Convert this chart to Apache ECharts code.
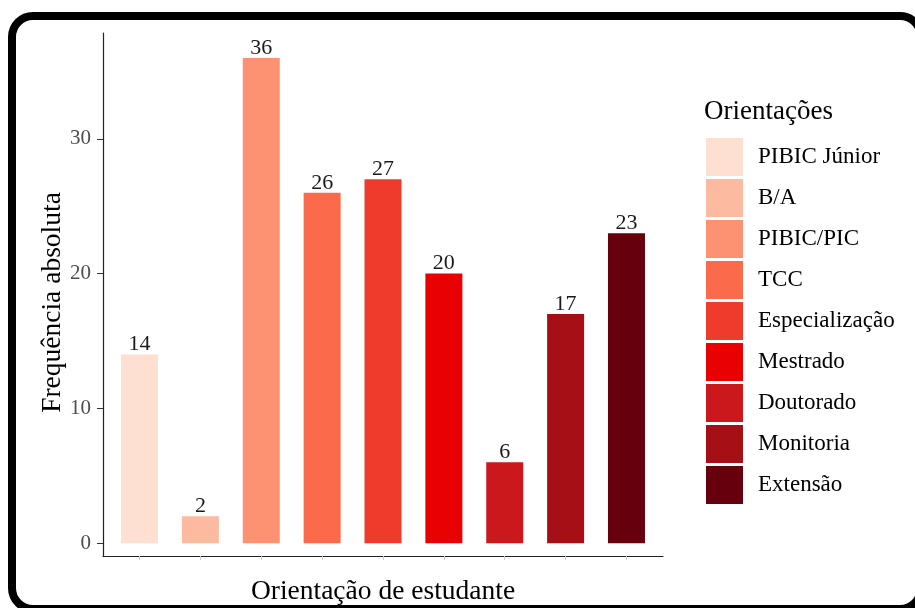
<!DOCTYPE html>
<html>
<head>
<meta charset="utf-8">
<script src="https://cdn.jsdelivr.net/npm/echarts@6/dist/echarts.min.js"></script>
<style>
  html, body { margin: 0; padding: 0; background: #fff; }
  #chart { width: 915px; height: 608px; }
</style>
</head>
<body>
<div id="chart"></div>
<script>
// categorias e valores
const categories = ['PIBIC Júnior', 'B/A', 'PIBIC/PIC', 'TCC', 'Especialização', 'Mestrado', 'Doutorado', 'Monitoria', 'Extensão']
const values = [14, 2, 36, 26, 27, 20, 6, 17, 23]
const colors = ['#FEE0D2', '#FCBBA1', '#FC9272', '#FB6A4A', '#EF3B2C', '#E90000', '#CB181D', '#A50F15', '#67000D']
const yTicks = [0, 10, 20, 30]
const positions = [1, 2, 3, 4, 5, 6, 7, 8, 9]

const FONT = "'Liberation Serif', 'Times New Roman', serif"

const chart = echarts.init(document.getElementById('chart'))

const series = categories.map((name, i) => ({
  name,
  type: 'bar',
  data: [[positions[i], values[i]]],
  barWidth: 37,
  barGap: '-100%',
  itemStyle: { color: colors[i] },
  label: {
    show: true,
    position: 'top',
    distance: 0,
    fontFamily: FONT,
    fontSize: 22,
    lineHeight: 20,
    color: '#1a1a1a'
  }
}))

const option = {
  animation: false,
  color: colors,
  title: {
    text: 'Orientações',
    left: 704,
    top: 98,
    padding: 0,
    textStyle: { fontFamily: FONT, fontSize: 27, fontWeight: 'normal', color: '#000', lineHeight: 27 }
  },
  legend: {
    orient: 'vertical',
    left: 706,
    top: 138,
    padding: 0,
    icon: 'rect',
    itemWidth: 37,
    itemHeight: 38,
    itemGap: 3,
    selectedMode: false,
    data: categories,
    textStyle: { fontFamily: FONT, fontSize: 23, color: '#000', padding: [4, 0, 0, 10] }
  },
  grid: { left: 103, right: 252, top: 33, bottom: 52, containLabel: false, outerBoundsMode: 'none' },
  xAxis: {
    type: 'value',
    min: 0.4,
    max: 9.6,
    name: 'Orientação de estudante',
    nameLocation: 'middle',
    nameGap: 22,
    nameMoveOverlap: false,
    nameTextStyle: { fontFamily: FONT, fontSize: 27.5, color: '#000', verticalAlign: 'top', lineHeight: 27 },
    axisLine: { onZero: false, lineStyle: { color: '#222', width: 1.2 } },
    axisTick: { show: true, length: 4, customValues: positions, lineStyle: { color: '#ccc' } },
    axisLabel: { show: false },
    splitLine: { show: false }
  },
  yAxis: {
    type: 'value',
    min: -0.95,
    max: 37.85,
    name: 'Frequência absoluta',
    nameLocation: 'middle',
    nameRotate: 90,
    nameGap: 36,
    nameMoveOverlap: false,
    nameTextStyle: { fontFamily: FONT, fontSize: 27.5, color: '#000', padding: [0, 16, 0, 0] },
    axisLine: { show: true, lineStyle: { color: '#222', width: 1.2 } },
    axisTick: { show: true, length: 6, customValues: yTicks, lineStyle: { color: '#333' } },
    axisLabel: { customValues: yTicks, margin: 12, fontFamily: FONT, fontSize: 21, color: '#4d4d4d' },
    splitLine: { show: false }
  },
  graphic: [
    {
      type: 'rect',
      shape: { x: 12, y: 16, width: 909, height: 593, r: 21 },
      style: { fill: 'none', stroke: '#000', lineWidth: 8 },
      silent: true,
      z: 100
    }
  ],
  series
}

chart.setOption(option)
</script>
</body>
</html>
